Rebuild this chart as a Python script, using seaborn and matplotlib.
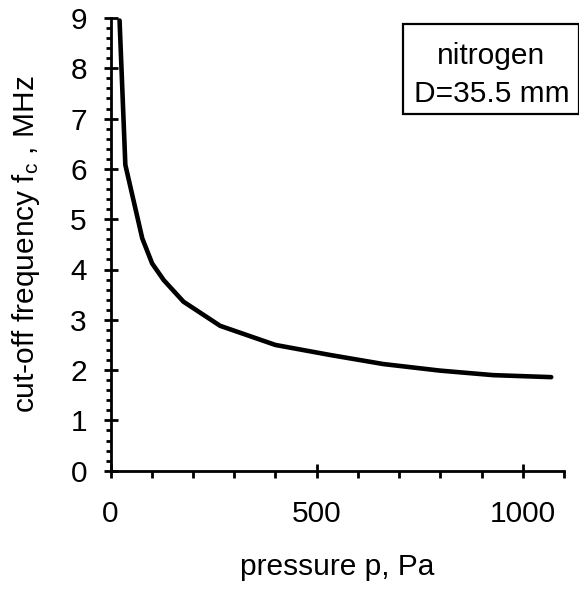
import matplotlib
matplotlib.use("Agg")
import matplotlib.pyplot as plt
import seaborn as sns
import pandas as pd
from matplotlib.ticker import MultipleLocator
from matplotlib.patches import Rectangle

# values
pressure = [22, 36, 77, 101, 129, 177, 266, 400, 533, 662, 799, 928, 1069]
frequency = [8.95, 6.08, 4.62, 4.12, 3.79, 3.36, 2.88, 2.50, 2.30, 2.12, 1.99, 1.90, 1.86]

x_ticks = [0, 500, 1000]
y_ticks = [0, 1, 2, 3, 4, 5, 6, 7, 8, 9]

df = pd.DataFrame({"p": pressure, "fc": frequency})

sns.set_style("ticks")
plt.rcParams['font.family'] = ['Liberation Sans', 'DejaVu Sans']
plt.rcParams['text.color'] = 'black'
plt.rcParams['axes.labelcolor'] = 'black'
plt.rcParams['mathtext.fontset'] = 'custom'
plt.rcParams['mathtext.rm'] = 'Liberation Sans'
plt.rcParams['mathtext.it'] = 'Liberation Sans'

FS = 21.5

fig = plt.figure(figsize=(5.79, 5.96), dpi=100)
ax = fig.add_axes([110.5 / 579, 1 - 470.7 / 596, (564 - 110.5) / 579, (470.7 - 18) / 596])

sns.lineplot(data=df, x="p", y="fc", ax=ax, color="black", linewidth=3.3, sort=False)

ax.set_xlim(0, 1100)
ax.set_ylim(0, 9)
ax.set_xticks(x_ticks)
ax.set_yticks(y_ticks)
ax.xaxis.set_minor_locator(MultipleLocator(100))
ax.yaxis.set_minor_locator(MultipleLocator(0.2))

for s in ["top", "right"]:
    ax.spines[s].set_visible(False)
for s in ["left", "bottom"]:
    ax.spines[s].set_linewidth(2)
    ax.spines[s].set_color("black")

ax.tick_params(axis="both", which="major", direction="inout", length=10, width=2,
               labelsize=FS, colors="black")
ax.tick_params(axis="x", which="minor", direction="out", length=5, width=2, colors="black")
ax.tick_params(axis="y", which="minor", direction="out", length=3.6, width=2, colors="black")
ax.tick_params(axis="x", which="major", pad=16)
ax.tick_params(axis="y", which="major", pad=12)

ax.set_xlabel("pressure p, Pa", fontsize=FS, color="black")
ax.set_ylabel("cut-off frequency f$_\\mathregular{c}$ , MHz", fontsize=FS, color="black")
ax.xaxis.set_label_coords(0.5, -0.182)
ax.yaxis.set_label_coords(-0.152, 0.5)

fig.patches.append(Rectangle((402.7 / 579, 1 - 114.3 / 596), (579 - 402.7) / 579, (114.3 - 24.3) / 596,
                             transform=fig.transFigure, fill=False, edgecolor="black", linewidth=1.6))
fig.text(491.5 / 579, 1 - 64.3 / 596, "nitrogen", ha="center", va="baseline", fontsize=FS)
fig.text(491.5 / 579, 1 - 101.7 / 596, "D=35.5 mm", ha="center", va="baseline", fontsize=FS)

fig.savefig("out.png", dpi=100)
